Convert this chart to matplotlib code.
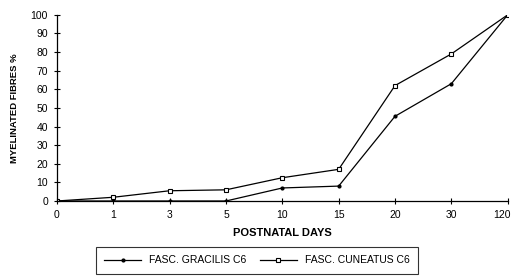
import numpy as np
import matplotlib
matplotlib.use('Agg')
import matplotlib.pyplot as plt
import matplotlib.transforms as mtransforms

days = ['0', '1', '3', '5', '10', '15', '20', '30', '120']
gracilis = [0, 0, 0, 0, 7, 8, 45.5, 63, 100]
cuneatus = [0, 2, 5.5, 6, 12.5, 17, 62, 79, 100]
yticks = [0, 10, 20, 30, 40, 50, 60, 70, 80, 90, 100]

plt.rcParams['font.family'] = ['Liberation Sans', 'DejaVu Sans']

fig = plt.figure(figsize=(5.11, 2.77), dpi=100)
ax = fig.add_axes([0.1115, 0.2744, 0.882, 0.672])
x = np.arange(len(days))
ax.plot(x, gracilis, '-', color='black', lw=0.9, marker='o', ms=2,
        label='FASC. GRACILIS C6')
ax.plot(x, cuneatus, '-', color='black', lw=0.9, marker='s', ms=3.5,
        mfc='white', mec='black', mew=0.8, label='FASC. CUNEATUS C6')

ax.set_xlim(0, len(days) - 1)
ax.set_ylim(0, 100)
ax.set_xticks(x)
ax.set_xticklabels(days, fontsize=7.5)
ax.set_yticks(yticks)
ax.set_yticklabels([str(v) for v in yticks], fontsize=7.5)
ax.tick_params(direction='inout', length=5, width=0.8, pad=4)
# keep the last day label inside the figure
last = ax.get_xticklabels()[-1]
last.set_transform(last.get_transform() +
                   mtransforms.ScaledTranslation(-4 / 72, 0, fig.dpi_scale_trans))
for s in ['top', 'right']:
    ax.spines[s].set_visible(False)
for s in ['left', 'bottom']:
    ax.spines[s].set_linewidth(0.9)
ax.set_xlabel('POSTNATAL DAYS', fontsize=8, fontweight='bold', labelpad=6)
fig.text(0.028, 0.61, 'MYELINATED FIBRES %', rotation=90, fontsize=6.8,
         fontweight='bold', ha='center', va='center')

leg = fig.legend(loc='upper center', bbox_to_anchor=(0.503, 0.108), ncol=2,
                 fontsize=7.5, frameon=True, fancybox=False, edgecolor='black',
                 handlelength=3.5, columnspacing=1.3, borderpad=0.8,
                 borderaxespad=0)
leg.get_frame().set_linewidth(0.8)

fig.savefig('out.png', dpi=100)
